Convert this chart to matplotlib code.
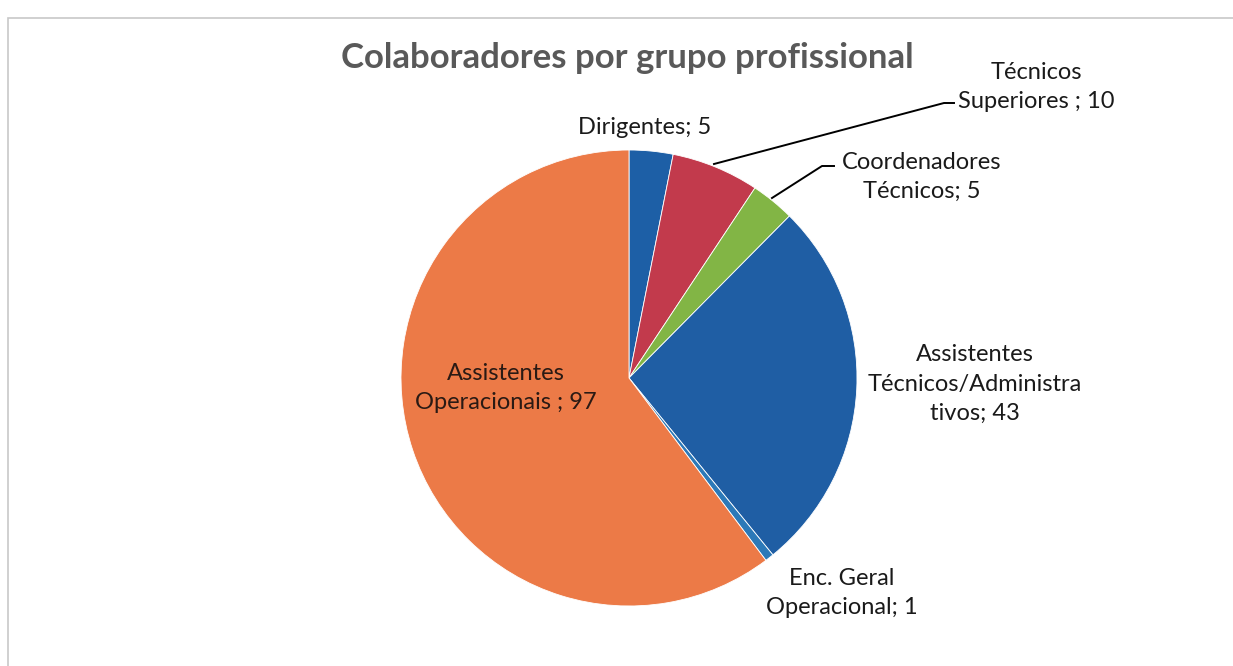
import matplotlib
matplotlib.use("Agg")
import matplotlib.pyplot as plt
from matplotlib.patches import Rectangle

labels = ["Dirigentes; 5", "Técnicos\nSuperiores ; 10", "Coordenadores\nTécnicos; 5",
          "Assistentes\nTécnicos/Administra\ntivos; 43", "Enc. Geral\nOperacional; 1",
          "Assistentes\nOperacionais ; 97"]
values = [5, 10, 5, 43, 1, 97]
colors = ["#1d5fa6", "#c23a4c", "#82b545", "#1f5ea4", "#2c79b8", "#ec7a47"]

W, H = 1233, 666
fig = plt.figure(figsize=(W / 100, H / 100), dpi=100)
ax = fig.add_axes([0, 0, 1, 1])

cx, cy, r = 629, H - 378, 228
wedges, _ = ax.pie(values, colors=colors, startangle=90, counterclock=False,
                   center=(cx, cy), radius=r, frame=True,
                   wedgeprops=dict(linewidth=0.6, edgecolor="white"))
ax.set_xlim(0, W)
ax.set_ylim(0, H)
ax.set_aspect("equal")
ax.axis("off")

# chart frame
ax.add_patch(Rectangle((8, -10), W, H - 18 + 10, fill=False, ec="#c8c8c8", lw=1.2))

font = ["Lato", "DejaVu Sans"]
fs = 17
tc = "#1a1a1a"

ax.text(627, H - 58, "Colaboradores por grupo profissional", ha="center", va="center",
        fontsize=25, fontweight="bold", color="#595959", family=font)

pos = [(645, 127), (1036, 87), (922, 177), (975, 384), (842, 593), (506, 388)]
lcol = [tc, tc, tc, tc, tc, "#2a1a14"]
for lab, (x, y), c in zip(labels, pos, lcol):
    ax.text(x, H - y, lab, ha="center", va="center", fontsize=fs, color=c,
            family=font, linespacing=1.5)

# leader lines
ax.plot([714, 944, 954], [H - 164, H - 103, H - 103], color="black", lw=1.4)
ax.plot([772, 822, 834], [H - 198, H - 166, H - 166], color="black", lw=1.4)

fig.savefig("out.png", dpi=100, facecolor="white")
